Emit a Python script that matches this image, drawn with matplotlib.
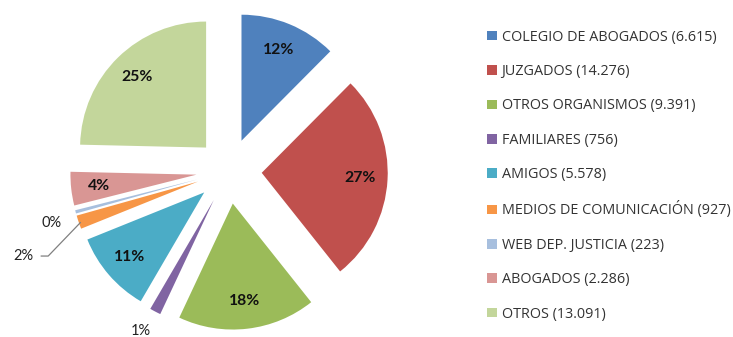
import numpy as np
import matplotlib
matplotlib.use("Agg")
import matplotlib.pyplot as plt

plt.rcParams['font.family'] = ['Lato', 'DejaVu Sans']

categories = ["COLEGIO DE ABOGADOS", "JUZGADOS", "OTROS ORGANISMOS", "FAMILIARES",
              "AMIGOS", "MEDIOS DE COMUNICACIÓN", "WEB DEP. JUSTICIA", "ABOGADOS", "OTROS"]
values = [6615, 14276, 9391, 756, 5578, 927, 223, 2286, 13091]
colors = ["#4F81BD", "#C0504D", "#9BBB59", "#8064A2", "#4BACC6",
          "#F79646", "#A7BFDE", "#D99694", "#C3D69B"]

vals = np.array(values, dtype=float)
raw = vals / vals.sum() * 100
# integer percentages that add up to 100 (largest remainder)
pct = np.floor(raw).astype(int)
order = np.argsort(-(raw - pct))
for i in order[:100 - pct.sum()]:
    pct[i] += 1
pct_iter = iter(pct)

def fmt_thousands(v):
    return f"{v:,}".replace(",", ".")

fig = plt.figure(figsize=(7.33, 3.37), dpi=100)
ax = fig.add_axes([0, 0, 1, 1])

wedges, texts, autotexts = ax.pie(
    vals, colors=colors, startangle=90, counterclock=False,
    explode=[0.26] * len(vals), radius=1.0,
    autopct=lambda p: f"{next(pct_iter)}%", pctdistance=0.78,
    textprops=dict(fontsize=11.3, fontweight='bold', color='#111111'),
)

# small slices get their labels outside
outside = {3: (-0.70, -1.27), 6: (-1.41, -0.41), 5: (-1.63, -0.675)}
for i, pos in outside.items():
    autotexts[i].set_position(pos)
    autotexts[i].set_fontweight('normal')
    autotexts[i].set_fontsize(10.5)
    autotexts[i].set_color('#222222')

# leader line for the communication-media label
ax.plot([-1.49, -1.435, -1.18], [-0.675, -0.675, -0.41], color='#808080', lw=0.9)

ax.set_aspect('auto')
ax.set_xlim(-229 / 126, (733 - 229) / 126)
ax.set_ylim(-(337 - 171) / 126, 171 / 126)
ax.axis('off')

labels = [f"{c} ({fmt_thousands(v)})" for c, v in zip(categories, values)]
leg = fig.legend(wedges, labels, loc='upper left', bbox_to_anchor=(0.657, 0.929),
                 frameon=False, prop=dict(family=['Open Sans', 'DejaVu Sans'], size=10.4),
                 handlelength=0.65, handleheight=0.65,
                 handletextpad=0.33, labelspacing=1.34, borderaxespad=0)
for t in leg.get_texts():
    t.set_color('#333333')

fig.savefig("out.png", dpi=100)
